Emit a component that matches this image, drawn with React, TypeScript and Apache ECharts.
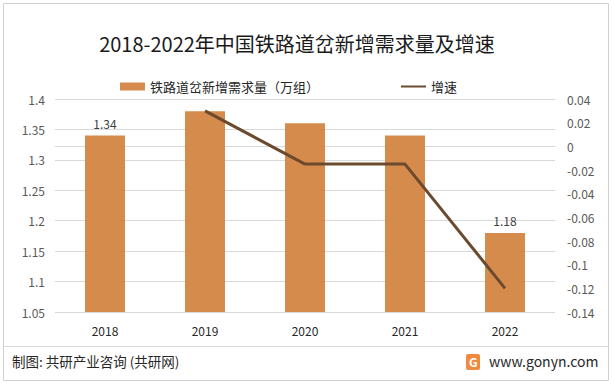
import React, { useEffect, useRef } from "react";
import * as echarts from "echarts";

const title = "2018-2022年中国铁路道岔新增需求量及增速";
const years = ["2018", "2019", "2020", "2021", "2022"];
const demand = [1.34, 1.38, 1.36, 1.34, 1.18];
const growth = [null, 0.03, -0.015, -0.015, -0.12];
const labeledYears = ["2018", "2022"];
const barName = "铁路道岔新增需求量（万组）";
const lineName = "增速";
const sourceText = "制图: 共研产业咨询 (共研网)";
const siteText = "www.gonyn.com";

export default function App() {
  const ref = useRef<HTMLDivElement>(null);
  useEffect(() => {
    const chart = echarts.init(ref.current!, null, { renderer: "svg" });
    const font = "'Noto Sans CJK SC', 'Microsoft YaHei', sans-serif";
    chart.setOption({
      animation: false,
      backgroundColor: "#ffffff",
      textStyle: { fontFamily: font },
      title: {
        text: title,
        left: 292,
        top: 28,
        textAlign: "center",
        textStyle: { fontSize: 20, fontWeight: "normal", color: "#1a1a1a", fontFamily: font },
      },
      legend: {
        top: 75,
        left: 115,
        itemGap: 81,
        itemWidth: 25,
        itemHeight: 8,
        textStyle: { fontSize: 13, color: "#262626", fontFamily: font },
        data: [
          { name: barName, icon: "rect" },
          { name: lineName, itemStyle: { opacity: 0 } },
        ],
      },
      grid: { left: 55, right: 58, top: 99, bottom: 72, containLabel: false },
      xAxis: {
        type: "category",
        data: years,
        axisLine: { lineStyle: { color: "#d9d9d9" } },
        axisTick: { show: false },
        axisLabel: { color: "#262626", fontSize: 12, margin: 12 },
      },
      yAxis: [
        {
          type: "value",
          min: 1.05,
          max: 1.4,
          interval: 0.05,
          axisLine: { show: false },
          axisTick: { show: false },
          splitLine: { lineStyle: { color: "#d9d9d9" } },
          axisLabel: { color: "#595959", fontSize: 12, margin: 10 },
        },
        {
          type: "value",
          min: -0.14,
          max: 0.04,
          interval: 0.02,
          axisLine: { show: false },
          axisTick: { show: false },
          splitLine: { show: false },
          axisLabel: {
            color: "#595959",
            fontSize: 12,
            margin: 12,
            formatter: (v: number) => String(Math.round(v * 100) / 100),
          },
        },
      ],
      series: [
        {
          name: barName,
          type: "bar",
          data: demand.map((v, i) => ({
            value: v,
            label: { show: labeledYears.includes(years[i]) },
          })),
          barWidth: 40,
          itemStyle: { color: "#d58b4c" },
          label: {
            position: "top",
            color: "#404040",
            fontSize: 12,
            distance: 6,
            formatter: (p: any) => p.value.toFixed(2),
          },
        },
        {
          name: lineName,
          type: "line",
          yAxisIndex: 1,
          data: growth,
          symbol: "none",
          lineStyle: { color: "#6b4a2e", width: 3 },
          itemStyle: { color: "#6b4a2e" },
        },
      ],
      graphic: [
        {
          type: "rect",
          shape: { x: 3.5, y: 3.5, width: 605, height: 377 },
          style: { fill: "none", stroke: "#d0d0d0", lineWidth: 1 },
          silent: true,
        },
        {
          type: "line",
          shape: { x1: 4, y1: 346.5, x2: 608, y2: 346.5 },
          style: { stroke: "#d9d9d9", lineWidth: 1 },
          silent: true,
        },
        {
          type: "text",
          x: 12,
          y: 354,
          style: { text: sourceText, fontSize: 13.5, fill: "#262626", fontFamily: font },
        },
        {
          type: "rect",
          shape: { x: 466, y: 354, width: 14, height: 16, r: 2 },
          style: { fill: "#f08a3c" },
        },
        {
          type: "text",
          x: 469,
          y: 355,
          style: { text: "G", fontSize: 12, fontWeight: "bold", fill: "#ffffff", fontFamily: font },
        },
        {
          type: "text",
          x: 489,
          y: 354,
          style: { text: siteText, fontSize: 14, fill: "#262626", fontFamily: font },
        },
      ],
    });
    return () => chart.dispose();
  }, []);
  return (
    <div
      ref={ref}
      style={{ position: "absolute", left: 0, top: 0, width: 613, height: 384 }}
    />
  );
}
